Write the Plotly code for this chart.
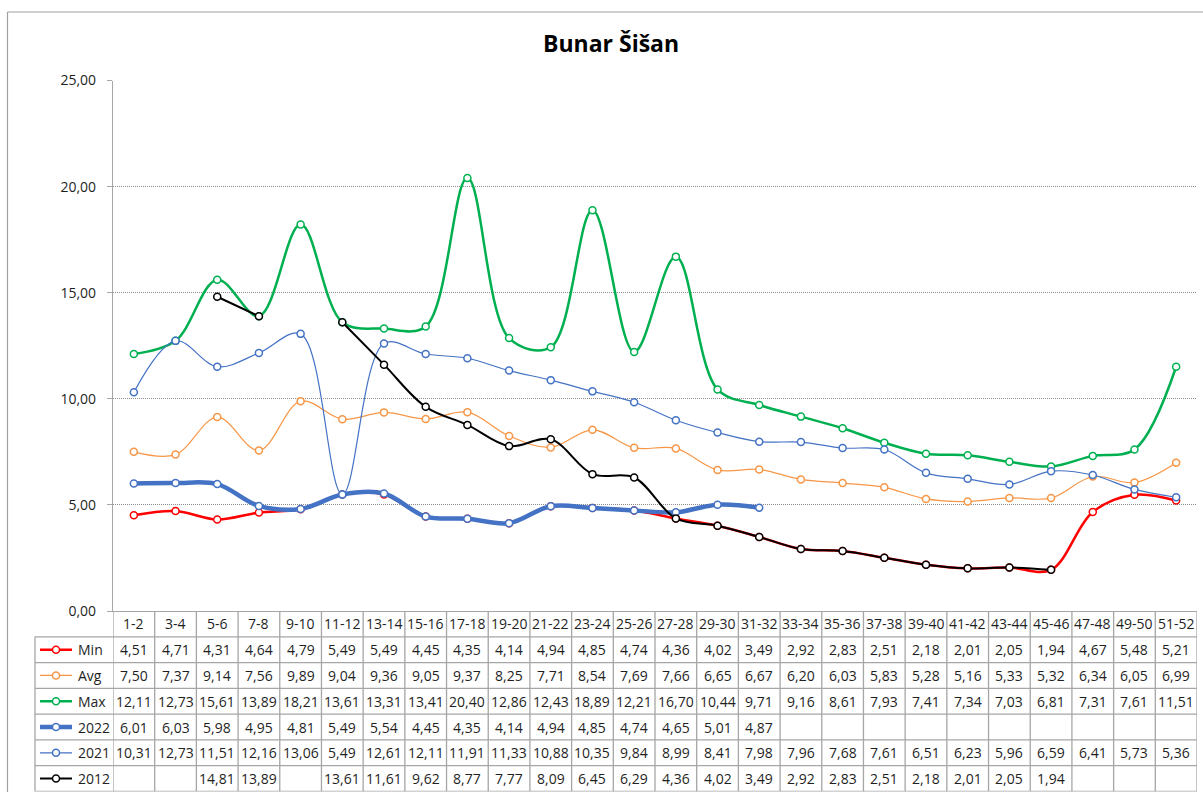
import plotly.graph_objects as go

categories = ["1-2", "3-4", "5-6", "7-8", "9-10", "11-12", "13-14", "15-16", "17-18",
              "19-20", "21-22", "23-24", "25-26", "27-28", "29-30", "31-32", "33-34",
              "35-36", "37-38", "39-40", "41-42", "43-44", "45-46", "47-48", "49-50", "51-52"]

min_vals = [4.51, 4.71, 4.31, 4.64, 4.79, 5.49, 5.49, 4.45, 4.35, 4.14, 4.94, 4.85, 4.74,
            4.36, 4.02, 3.49, 2.92, 2.83, 2.51, 2.18, 2.01, 2.05, 1.94, 4.67, 5.48, 5.21]
avg_vals = [7.50, 7.37, 9.14, 7.56, 9.89, 9.04, 9.36, 9.05, 9.37, 8.25, 7.71, 8.54, 7.69,
            7.66, 6.65, 6.67, 6.20, 6.03, 5.83, 5.28, 5.16, 5.33, 5.32, 6.34, 6.05, 6.99]
max_vals = [12.11, 12.73, 15.61, 13.89, 18.21, 13.61, 13.31, 13.41, 20.40, 12.86, 12.43,
            18.89, 12.21, 16.70, 10.44, 9.71, 9.16, 8.61, 7.93, 7.41, 7.34, 7.03, 6.81,
            7.31, 7.61, 11.51]
vals_2022 = [6.01, 6.03, 5.98, 4.95, 4.81, 5.49, 5.54, 4.45, 4.35, 4.14, 4.94, 4.85, 4.74,
             4.65, 5.01, 4.87, None, None, None, None, None, None, None, None, None, None]
vals_2021 = [10.31, 12.73, 11.51, 12.16, 13.06, 5.49, 12.61, 12.11, 11.91, 11.33, 10.88,
             10.35, 9.84, 8.99, 8.41, 7.98, 7.96, 7.68, 7.61, 6.51, 6.23, 5.96, 6.59, 6.41,
             5.73, 5.36]
vals_2012 = [None, None, 14.81, 13.89, None, 13.61, 11.61, 9.62, 8.77, 7.77, 8.09, 6.45,
             6.29, 4.36, 4.02, 3.49, 2.92, 2.83, 2.51, 2.18, 2.01, 2.05, 1.94, None, None, None]

series_names = ["Min", "Avg", "Max", "2022", "2021", "2012"]
series_values = [min_vals, avg_vals, max_vals, vals_2022, vals_2021, vals_2012]
series_colors = ["#FF0000", "#F79646", "#00B050", "#4472C4", "#4472C4", "#000000"]
series_widths = [2.5, 1.2, 2.5, 4.5, 1.2, 2.0]

W, H = 1203, 792
FONT = "Open Sans"
TXT = "#1f1f1f"
GRID = "#a6a6a6"


def px(x):
    return x / W


def py(y):
    return 1 - y / H


def fmt(v):
    return "" if v is None else f"{v:.2f}".replace(".", ",")


fig = go.Figure()
for name, vals, color, w in zip(series_names, series_values, series_colors, series_widths):
    fig.add_trace(go.Scatter(
        x=categories, y=vals, name=name, mode="lines+markers",
        line=dict(color=color, width=w, shape="spline", smoothing=1.0),
        marker=dict(symbol="circle", size=7, color="white", line=dict(color=color, width=1.5)),
        connectgaps=False, showlegend=False, cliponaxis=False,
        xaxis="x", yaxis="y",
    ))

annotations = []
shapes = []

# title
annotations.append(dict(text="<b>Bunar Šišan</b>", x=px(611), y=py(43), xref="paper", yref="paper",
                        xanchor="center", yanchor="middle", showarrow=False,
                        font=dict(family=FONT, size=23, color="#000000")))

# table header (category labels)
for i, c in enumerate(categories):
    annotations.append(dict(text=c, x=i, y=0.5, xref="x", yref="y2", showarrow=False,
                            xanchor="center", yanchor="middle",
                            font=dict(family=FONT, size=14, color=TXT)))

# table cells
for r, (name, vals) in enumerate(zip(series_names, series_values), start=1):
    for i, v in enumerate(vals):
        if v is None:
            continue
        annotations.append(dict(text=fmt(v), x=i, y=r + 0.5, xref="x", yref="y2",
                                showarrow=False, xanchor="center", yanchor="middle",
                                font=dict(family=FONT, size=14, color=TXT)))

# legend keys in table
for r, (name, color, w) in enumerate(zip(series_names, series_colors, series_widths), start=1):
    yc = r + 0.5
    shapes.append(dict(type="line", xref="paper", yref="y2", x0=px(40), x1=px(72), y0=yc, y1=yc,
                       line=dict(color=color, width=w), layer="above"))
    shapes.append(dict(type="circle", xref="paper", yref="y2", xsizemode="pixel", ysizemode="pixel",
                       xanchor=px(56), yanchor=yc, x0=-3.5, x1=3.5, y0=-3.5, y1=3.5,
                       fillcolor="white", line=dict(color=color, width=1.5), layer="above"))
    annotations.append(dict(text=name, x=px(76), y=yc, xref="paper", yref="y2", showarrow=False,
                            xanchor="left", yanchor="middle",
                            font=dict(family=FONT, size=14, color=TXT)))

# table grid
n = len(categories)
for r in range(1, 8):
    shapes.append(dict(type="line", xref="paper", yref="y2", x0=px(35), x1=px(1197), y0=r, y1=r,
                       line=dict(color=GRID, width=1.3), layer="below"))
for i in range(n + 1):
    shapes.append(dict(type="line", xref="x", yref="y2", x0=i - 0.5, x1=i - 0.5, y0=0, y1=7,
                       line=dict(color=GRID, width=1.3), layer="below"))
shapes.append(dict(type="line", xref="paper", yref="y2", x0=px(35), x1=px(35), y0=1, y1=7,
                   line=dict(color=GRID, width=1.3), layer="below"))

# chart border (left and top visible)
shapes.append(dict(type="line", xref="paper", yref="paper", x0=px(7.5), x1=px(7.5), y0=py(12), y1=0,
                   line=dict(color="#a0a0a0", width=1.2)))
shapes.append(dict(type="line", xref="paper", yref="paper", x0=px(7.5), x1=1, y0=py(12), y1=py(12),
                   line=dict(color="#a0a0a0", width=1.2)))

fig.update_layout(
    template="none",
    width=W, height=H,
    autosize=False,
    margin=dict(l=0, r=0, t=0, b=0, pad=0, autoexpand=False),
    paper_bgcolor="white", plot_bgcolor="white",
    separators=",.",
    font=dict(family=FONT, size=14, color=TXT),
    xaxis=dict(domain=[px(113), px(1197)], range=[-0.5, n - 0.5], type="category",
               showticklabels=False, showgrid=False, zeroline=False, automargin=False,
               showline=True, linecolor=GRID, linewidth=1.3, ticks=""),
    yaxis=dict(domain=[py(611), py(80.5)], range=[0, 25], dtick=5, tickformat=".2f",
               showgrid=True, gridcolor="#8c8c8c", griddash="1px,1px", gridwidth=1,
               zeroline=False, showline=True, linecolor=GRID, linewidth=1.3, automargin=False,
               ticks="outside", ticklen=5, tickcolor=GRID, ticklabelstandoff=8,
               tickfont=dict(family=FONT, size=14, color=TXT)),
    yaxis2=dict(domain=[py(791.5), py(611)], range=[7, 0], visible=False, anchor="x",
                automargin=False),
    annotations=annotations,
    shapes=shapes,
    showlegend=False,
)

fig.write_html("out.html", config={"displayModeBar": False},
               post_script="document.body.style.margin='0';document.body.style.overflow='hidden';")
